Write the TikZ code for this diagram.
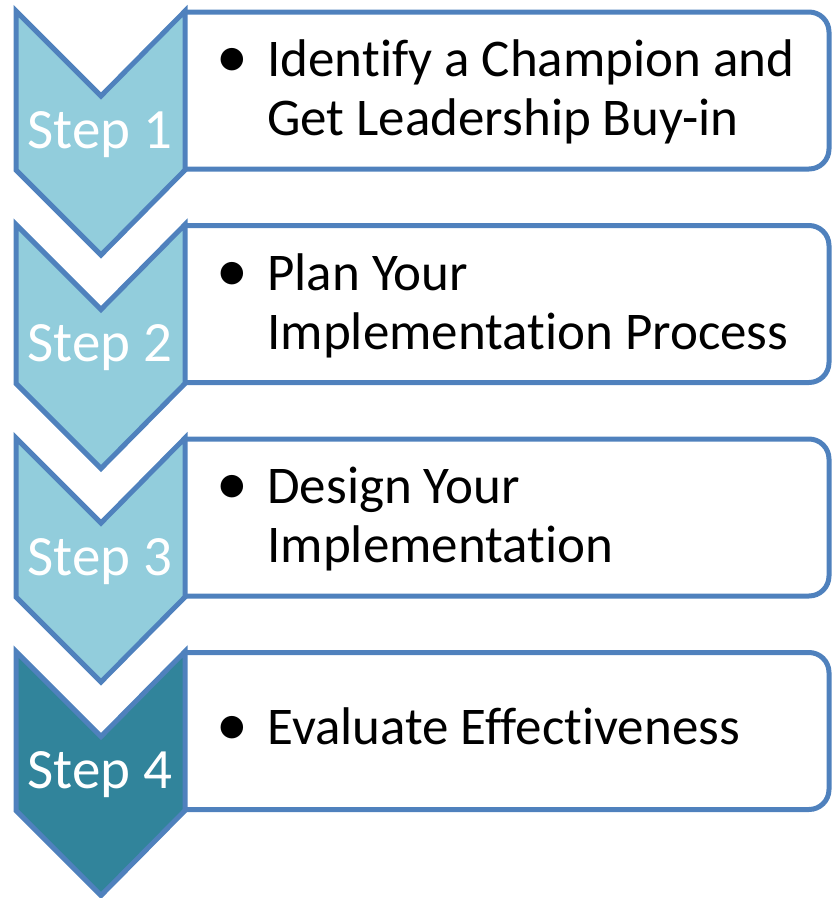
\documentclass[tikz,border=0pt]{standalone}
\usepackage{fontspec}
\setmainfont{Carlito}[Ligatures=NoCommon]
\usetikzlibrary{positioning}
\definecolor{stepline}{RGB}{79,129,189}
\definecolor{steplight}{RGB}{146,205,220}
\definecolor{stepdark}{RGB}{49,132,155}
\tikzset{
 chevron/.style={draw=stepline,line width=5pt,line join=miter},
 textbox/.style={draw=stepline,line width=5pt,rounded corners=20pt},
 steplabel/.style={text=white,anchor=base,inner sep=0pt,font=\fontsize{57}{62}\selectfont},
 itemtext/.style={anchor=west,inner sep=0pt,font=\fontsize{53}{59}\selectfont},
}
\newcommand{\stepitem}[1]{\begin{tabular}{@{}l@{\hspace{19.5pt}}l@{}}#1\end{tabular}}
\newcommand{\bigbullet}{\raisebox{-1pt}{\scalebox{1.2}{\textbullet}}}

\begin{document}
\begin{tikzpicture}[x=1pt,y=-1pt]
    \useasboundingbox (0,0) rectangle (833,898);
    % boxes first, the chevrons cover their open ends
    \foreach \i/\c in {0/steplight,1/steplight,2/steplight,3/stepdark}{
        \begin{scope}[yshift=-213.5*\i pt]
            \draw[textbox] (186,12) -- (829,12) -- (829,169) -- (186,169);
            \draw[chevron,fill=\c] (16,11) -- (101,96) -- (185,11) -- (185,170)
                -- (101,255) -- (16,170) -- cycle;
        \end{scope}
    }
    \node[steplabel] (s1) at (100,148) {Step 1};
    \node[steplabel] (s2) at (100,361.5) {Step 2};
    \node[steplabel] (s3) at (100,575) {Step 3};
    \node[steplabel] (s4) at (100,788.5) {Step 4};
    \node[itemtext] (t1) at (216,94.5) {\stepitem{\bigbullet & Identify a Champion and\\ & Get Leadership Buy-in}};
    \node[itemtext] (t2) at (216,308) {\stepitem{\bigbullet & Plan Your\\ & Implementation Process}};
    \node[itemtext] (t3) at (216,521.5) {\stepitem{\bigbullet & Design Your\\ & Implementation}};
    \node[itemtext] (t4) at (216,733) {\stepitem{\bigbullet & Evaluate Effectiveness}};
\end{tikzpicture}
\end{document}
